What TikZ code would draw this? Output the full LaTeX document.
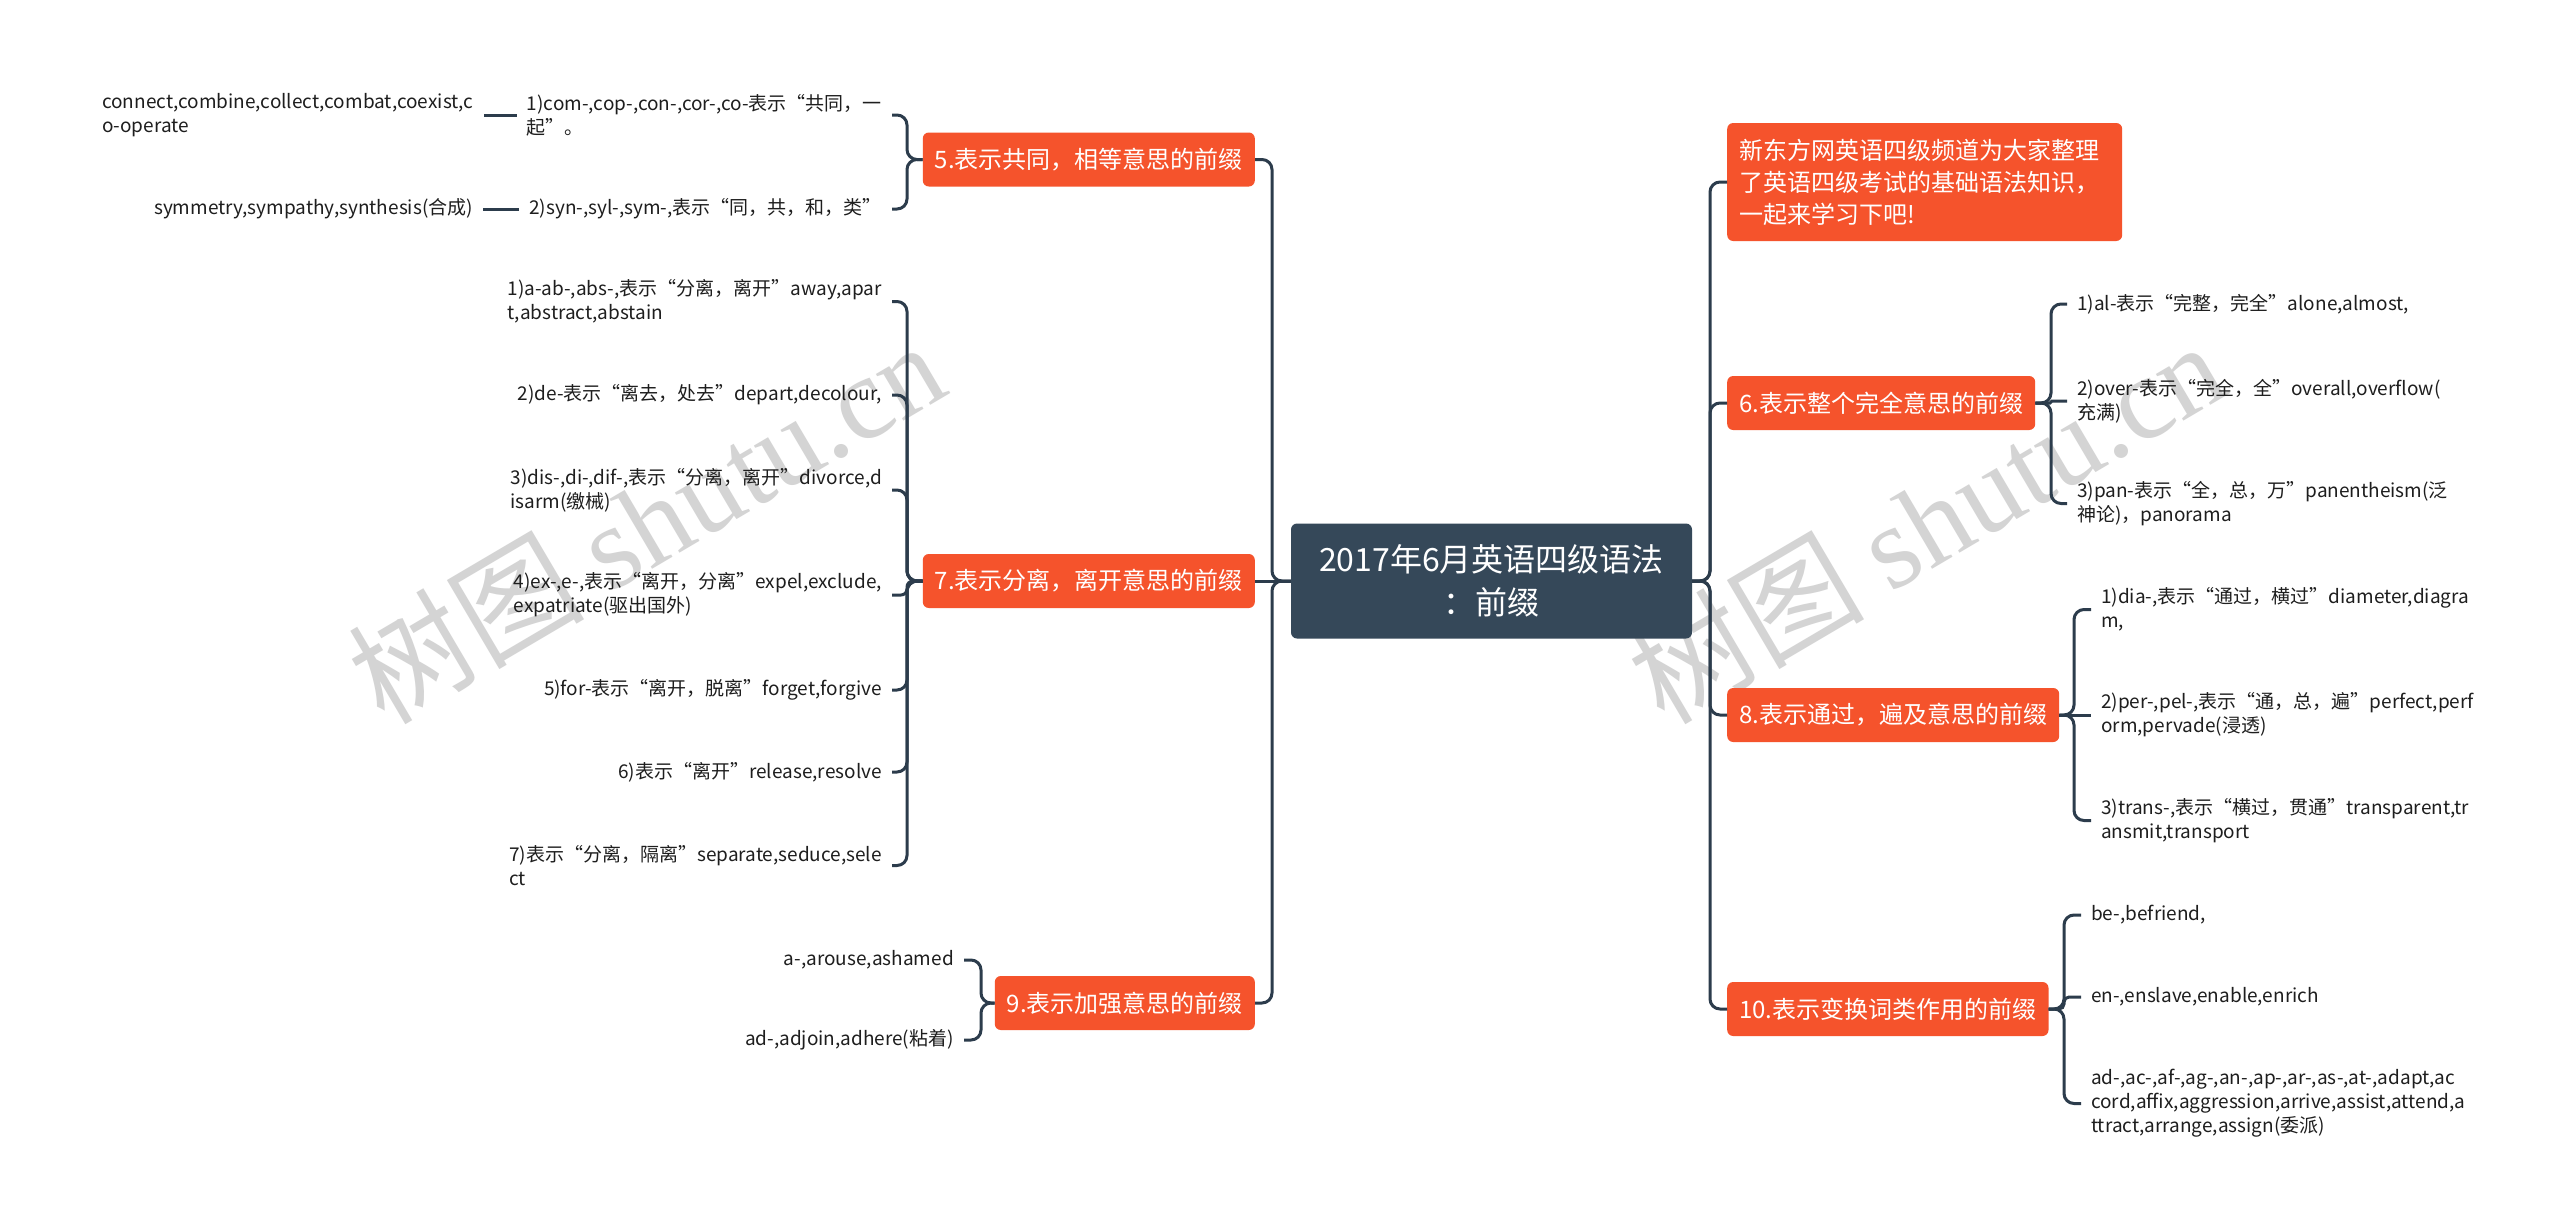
\documentclass[tikz,border=0pt]{standalone}
\usepackage{fontspec}
\setmainfont{Noto Sans CJK SC}
\newfontfamily\wmserif{Liberation Serif}
\usetikzlibrary{positioning}
\definecolor{orng}{RGB}{245,83,44}
\definecolor{rootc}{RGB}{53,72,89}
\definecolor{lnc}{RGB}{44,60,76}
\definecolor{txt}{RGB}{30,30,30}
\definecolor{wm}{RGB}{212,212,212}
\tikzset{
  mainbox/.style={fill=orng, rounded corners=6pt, text=white, font=\fontsize{24}{30}\selectfont, minimum height=54pt, inner xsep=12pt, inner ysep=0pt},
  rootbox/.style={fill=rootc, rounded corners=6pt, text=white, font=\fontsize{32}{43}\selectfont, align=center, inner sep=0pt},
  leaf/.style={inner xsep=10pt, inner ysep=2pt, font=\fontsize{19}{24}\selectfont, text=txt, align=left},
  link/.style={draw=lnc, line width=3pt, rounded corners=10pt},
  wmark/.style={rotate=30.5, text=wm, inner sep=0pt}
}
\begin{document}
\begin{tikzpicture}[x=1pt,y=-1pt]
\useasboundingbox (0,0) rectangle (2560,1227);
\fill[white] (0,0) rectangle (2560,1227);

% watermarks
\node[wmark] (wm1) at (646,521) {\fontsize{118}{118}\selectfont 树图 {\wmserif shutu.cn}};
\node[wmark] (wm2) at (1926,521) {\fontsize{118}{118}\selectfont 树图 {\wmserif shutu.cn}};

% root
\node[rootbox, minimum width=401pt, minimum height=115pt] (root) at (1491.5,581) {2017年6月英语四级语法\\：前缀};

% left main nodes
\node[mainbox, minimum width=328pt, anchor=east] (n5) at (1255,159.5) {5.表示共同，相等意思的前缀};
\node[mainbox, minimum width=328pt, anchor=east] (n7) at (1255,581) {7.表示分离，离开意思的前缀};
\node[mainbox, minimum width=256pt, anchor=east] (n9) at (1255,1003) {9.表示加强意思的前缀};

% right main nodes
\node[mainbox, minimum width=395pt, minimum height=118pt, anchor=west, text width=371pt, align=left, font=\fontsize{24}{32}\selectfont] (intro) at (1727,182) {新东方网英语四级频道为大家整理\\了英语四级考试的基础语法知识，\\一起来学习下吧!};
\node[mainbox, minimum width=305pt, anchor=west] (n6) at (1727,403) {6.表示整个完全意思的前缀};
\node[mainbox, minimum width=329pt, anchor=west] (n8) at (1727,715) {8.表示通过，遍及意思的前缀};
\node[mainbox, minimum width=319pt, anchor=west] (n10) at (1727,1009) {10.表示变换词类作用的前缀};

% root connectors
\draw[link] (root.west) -- (1272,581) |- (n5.east);
\draw[link] (root.west) -- (n7.east);
\draw[link] (root.west) -- (1272,581) |- (n9.east);
\draw[link] (root.east) -- (1710,581) |- (intro.west);
\draw[link] (root.east) -- (1710,581) |- (n6.west);
\draw[link] (root.east) -- (1710,581) |- (n8.west);
\draw[link] (root.east) -- (1710,581) |- (n10.west);

% node 5 children
\node[leaf, anchor=east] (a1) at (892,115) {1)com-,cop-,con-,cor-,co-表示“共同，一\\起”。};
\node[leaf, anchor=east] (a2) at (892,209) {2)syn-,syl-,sym-,表示“同，共，和，类”};
\node[leaf, left=33pt of a1] (g1) {connect,combine,collect,combat,coexist,c\\o-operate};
\node[leaf, left=36pt of a2] (g2) {symmetry,sympathy,synthesis(合成)};
\draw[link] (n5.west) -- (907,159.5) |- (a1.east);
\draw[link] (n5.west) -- (907,159.5) |- (a2.east);
\draw[link] (a1.west) -- (g1.east);
\draw[link] (a2.west) -- (g2.east);

% node 7 children
\node[leaf, anchor=east] (b1) at (892,301.5) {1)a-ab-,abs-,表示“分离，离开”away,apar\\t,abstract,abstain};
\node[leaf, anchor=east] (b2) at (892,395) {2)de-表示“离去，处去”depart,decolour,};
\node[leaf, anchor=east] (b3) at (892,490) {3)dis-,di-,dif-,表示“分离，离开”divorce,d\\isarm(缴械)};
\node[leaf, anchor=east] (b4) at (892,595) {4)ex-,e-,表示“离开，分离”expel,exclude,\\expatriate(驱出国外)};
\node[leaf, anchor=east] (b5) at (892,690) {5)for-表示“离开，脱离”forget,forgive};
\node[leaf, anchor=east] (b6) at (892,772) {6)表示“离开”release,resolve};
\node[leaf, anchor=east] (b7) at (892,865.5) {7)表示“分离，隔离”separate,seduce,sele\\ct};
\foreach \c in {b1,b2,b3,b5,b6,b7}
  \draw[link] (n7.west) -- (907,581) |- (\c.east);
\draw[link, rounded corners=6pt] (n7.west) -- (907,581) |- (b4.east);

% node 9 children
\node[leaf, anchor=east] (c1) at (964,960) {a-,arouse,ashamed};
\node[leaf, anchor=east] (c2) at (964,1040) {ad-,adjoin,adhere(粘着)};
\draw[link] (n9.west) -- (981,1003) |- (c1.east);
\draw[link] (n9.west) -- (981,1003) |- (c2.east);

% node 6 children
\node[leaf, anchor=west] (d1) at (2067,304) {1)al-表示“完整，完全”alone,almost,};
\node[leaf, anchor=west] (d2) at (2067,401) {2)over-表示“完全，全”overall,overflow(\\充满)};
\node[leaf, anchor=west] (d3) at (2067,503.5) {3)pan-表示“全，总，万”panentheism(泛\\神论)，panorama};
\draw[link] (n6.east) -- (2051,403) |- (d1.west);
\draw[link, rounded corners=1pt] (n6.east) -- (2051,403) |- (d2.west);
\draw[link] (n6.east) -- (2051,403) |- (d3.west);

% node 8 children
\node[leaf, anchor=west] (e1) at (2091,609.5) {1)dia-,表示“通过，横过”diameter,diagra\\m,};
\node[leaf, anchor=west] (e2) at (2091,715) {2)per-,pel-,表示“通，总，遍”perfect,perf\\orm,pervade(浸透)};
\node[leaf, anchor=west] (e3) at (2091,820.5) {3)trans-,表示“横过，贯通”transparent,tr\\ansmit,transport};
\draw[link] (n8.east) -- (2074,715) |- (e1.west);
\draw[link] (n8.east) -- (e2.west);
\draw[link] (n8.east) -- (2074,715) |- (e3.west);

% node 10 children
\node[leaf, anchor=west] (f1) at (2081,915) {be-,befriend,};
\node[leaf, anchor=west] (f2) at (2081,997) {en-,enslave,enable,enrich};
\node[leaf, anchor=west] (f3) at (2081,1103.5) {ad-,ac-,af-,ag-,an-,ap-,ar-,as-,at-,adapt,ac\\cord,affix,aggression,arrive,assist,attend,a\\ttract,arrange,assign(委派)};
\draw[link] (n10.east) -- (2064,1009) |- (f1.west);
\draw[link, rounded corners=5pt] (n10.east) -- (2064,1009) |- (f2.west);
\draw[link] (n10.east) -- (2064,1009) |- (f3.west);
\end{tikzpicture}
\end{document}
